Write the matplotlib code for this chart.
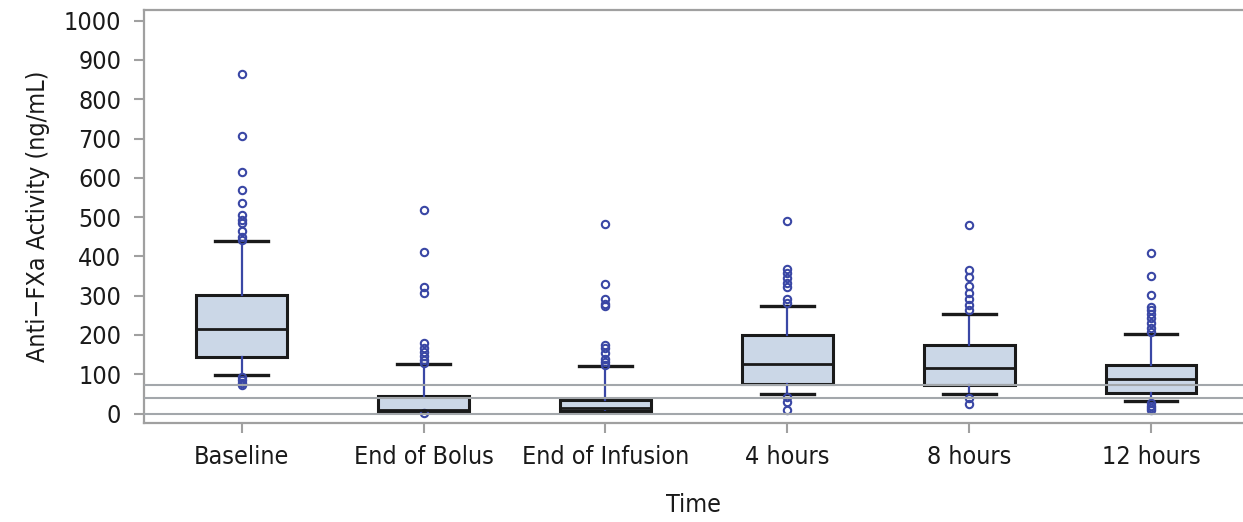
import matplotlib
matplotlib.use('Agg')
import matplotlib.pyplot as plt
from matplotlib import font_manager

# values (ng/mL)
times = ['Baseline', 'End of Bolus', 'End of Infusion', '4 hours', '8 hours', '12 hours']
q1 = [143, 7, 6, 74, 73, 53]
med = [214, 10, 13, 125, 117, 87]
q3 = [301, 45, 34, 201, 174, 123]
whis_lo = [99, 4, 4, 50, 50, 32]
whis_hi = [438, 125, 120, 274, 253, 202]
outliers = [
    [865, 706, 614, 570, 536, 505, 492, 484, 464, 450, 441, 94, 85, 78, 72],
    [518, 412, 321, 307, 179, 168, 157, 146, 136, 128, 0.5],
    [482, 329, 291, 280, 274, 174, 166, 153, 140, 131, 123],
    [490, 369, 357, 344, 333, 323, 291, 282, 43, 30, 9],
    [479, 365, 348, 324, 306, 291, 276, 263, 39, 24],
    [408, 351, 301, 272, 263, 253, 242, 231, 217, 208, 27, 20, 14, 9],
]
ref_lines = [0, 40, 72]
yticks = list(range(0, 1001, 100))

# the original uses a condensed sans; pick the closest one that is installed
fonts = font_manager.fontManager.ttflist
names = {f.name for f in fonts}
condensed = [f for f in fonts if f.name == 'DejaVu Sans' and 'condensed' in str(f.stretch)
             and f.style == 'normal' and f.weight in (400, 'normal')]
if 'Liberation Sans Narrow' in names:
    fam, stretch, fs = 'Liberation Sans Narrow', 'normal', 20
elif condensed:
    fam, stretch, fs = 'DejaVu Sans', 'condensed', 18
else:
    fam, stretch, fs = 'Liberation Sans', 'normal', 17.5
plt.rcParams['font.family'] = [fam, 'DejaVu Sans']
plt.rcParams['font.stretch'] = stretch
plt.rcParams['font.size'] = fs

fig = plt.figure(figsize=(12.43, 5.22), dpi=100)
ax = fig.add_axes([0.1155, 0.1897, 0.8845, 0.7911])

stats = []
for i in range(len(times)):
    stats.append({'label': times[i], 'q1': q1[i], 'med': med[i], 'q3': q3[i],
                  'whislo': whis_lo[i], 'whishi': whis_hi[i], 'fliers': outliers[i]})

blue = '#3a47a5'
ax.bxp(stats, positions=range(len(times)), widths=0.5, capwidths=0.29,
       patch_artist=True,
       boxprops=dict(facecolor='#cbd7e7', edgecolor='#1a1a1a', linewidth=2.2),
       medianprops=dict(color='#1a1a1a', linewidth=2.0),
       whiskerprops=dict(color=blue, linewidth=1.6),
       capprops=dict(color='#1a1a1a', linewidth=2.4),
       flierprops=dict(marker='o', markerfacecolor='none', markeredgecolor=blue,
                       markersize=5.3, markeredgewidth=1.5))

for y in ref_lines:
    ax.axhline(y, color='#a3a7ab', linewidth=1.5, zorder=4)

ax.set_xlim(-0.54, 5.506)
ax.set_ylim(-24, 1027)
ax.set_yticks(yticks)
ax.set_xticks(range(len(times)))
ax.set_xticklabels(times)

for s in ['left', 'top', 'bottom']:
    ax.spines[s].set_color('#a0a0a0')
    ax.spines[s].set_linewidth(1.6)
ax.spines['right'].set_visible(False)
ax.tick_params(axis='both', colors='#a0a0a0', labelcolor='#1a1a1a', length=7, width=1.5, labelsize=fs)
ax.tick_params(axis='x', pad=9)
ax.tick_params(axis='y', pad=9)

ax.set_xlabel('Time', fontsize=fs, color='#1a1a1a', labelpad=17)
ax.set_ylabel('Anti\u2212FXa Activity (ng/mL)', fontsize=fs, color='#1a1a1a', labelpad=10)

fig.savefig('out.png', dpi=100)
